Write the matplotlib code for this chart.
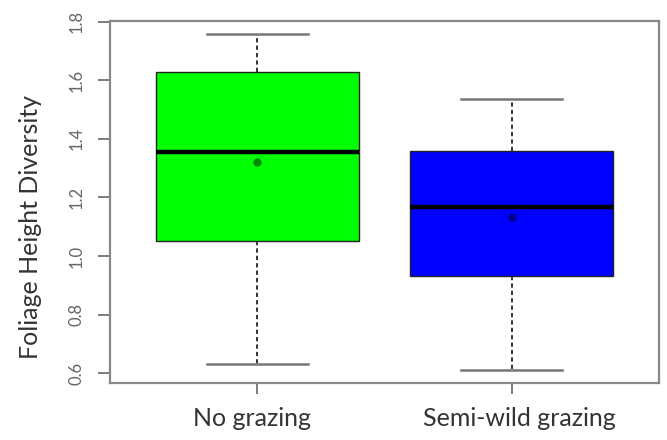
#!/usr/bin/env python3
"""
Box plot of foliage height diversity under two grazing regimes.
"""

import matplotlib
matplotlib.use('Agg')
import matplotlib.pyplot as plt

# summary statistics per treatment
groups = ['No grazing', 'Semi-wild grazing']
whislo = [0.632, 0.613]
q1 = [1.052, 0.933]
medians = [1.355, 1.168]
means = [1.321, 1.132]
q3 = [1.628, 1.359]
whishi = [1.756, 1.535]
box_colors = ['#00ff00', '#0000ff']

yticks = [0.6, 0.8, 1.0, 1.2, 1.4, 1.6, 1.8]


if __name__ == '__main__':
    stats = []
    for i, name in enumerate(groups):
        stats.append(dict(label=name, whislo=whislo[i], q1=q1[i], med=medians[i],
                          mean=means[i], q3=q3[i], whishi=whishi[i], fliers=[]))

    fig = plt.figure(figsize=(6.67, 4.40), dpi=100)
    ax = fig.add_axes([0.1649, 0.1295, 0.8231, 0.8228])

    positions = [1, 2]
    bp = ax.bxp(stats, positions=positions, widths=0.8, capwidths=0.4,
                patch_artist=True, showmeans=True,
                boxprops=dict(edgecolor='#222222', linewidth=1.0),
                medianprops=dict(color='black', linewidth=3.2, solid_capstyle='butt'),
                whiskerprops=dict(color='#333333', linewidth=1.4, linestyle=(0, (2.2, 1.6))),
                capprops=dict(color='#777777', linewidth=1.8),
                meanprops=dict(marker='o', markersize=6, markerfacecolor='black',
                               markeredgecolor='none', alpha=0.45))
    for patch, c in zip(bp['boxes'], box_colors):
        patch.set_facecolor(c)

    ax.set_xlim(0.42, 2.58)
    ax.set_ylim(0.567, 1.802)

    ax.set_yticks(yticks)
    ax.set_yticklabels(['%.1f' % v for v in yticks], rotation=90, va='center',
                       fontsize=12, color='#666666', family='Lato')
    ax.set_xticks(positions)
    ax.set_xticklabels([])

    # group names, nudged a little off the tick centres
    for pos, name, dx in zip(positions, groups, [-5, 8]):
        ax.annotate(name, xy=(pos, 0), xycoords=('data', 'axes fraction'),
                    xytext=(dx, -35), textcoords='offset pixels',
                    ha='center', va='center', fontsize=18, color='#333333',
                    family='Lato', annotation_clip=False)

    ax.tick_params(axis='y', length=9, width=1.2, color='#666666', pad=9)
    ax.tick_params(axis='x', length=8, width=1.2, color='#666666')
    for sp in ax.spines.values():
        sp.set_color('#888888')
        sp.set_linewidth(1.6)

    ax.set_ylabel('Foliage Height Diversity', fontsize=18, color='#333333', family='Lato')
    ax.yaxis.set_label_coords(-0.124, 0.43)

    fig.savefig('out.png', dpi=100)
